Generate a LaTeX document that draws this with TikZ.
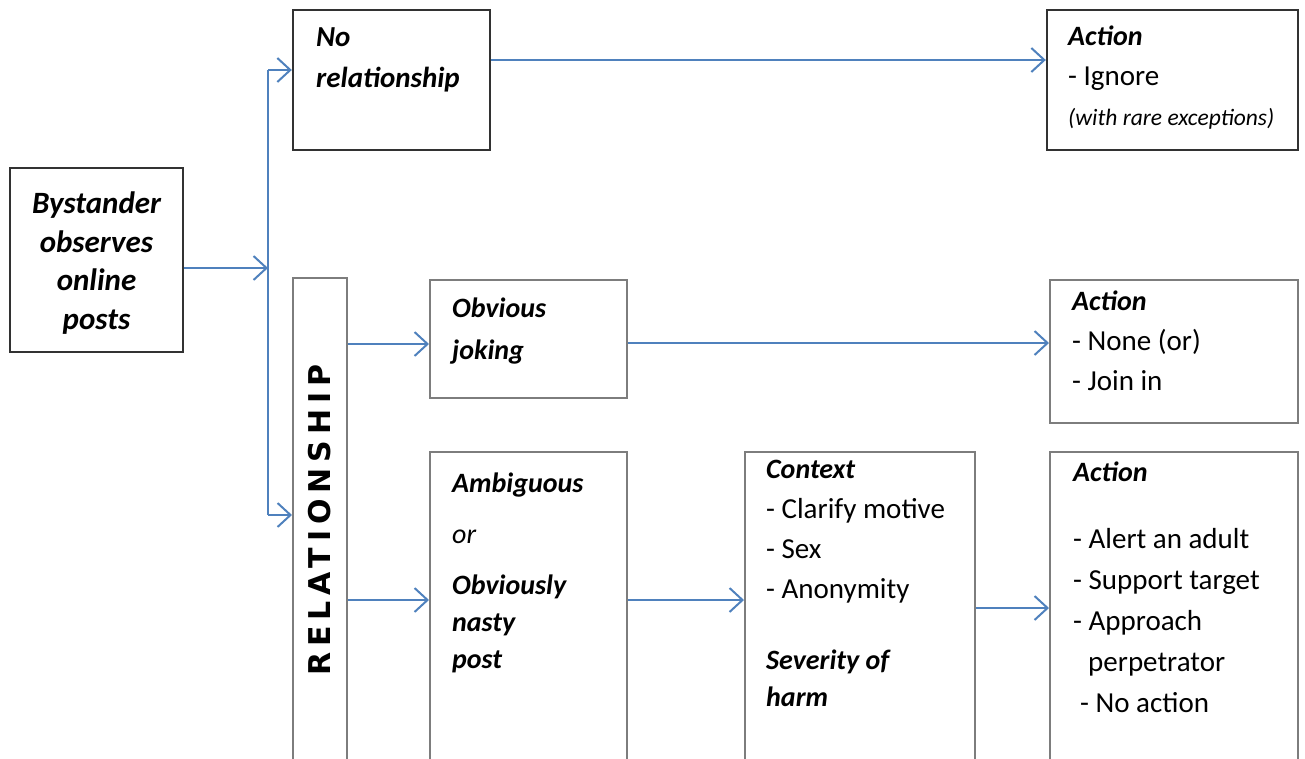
\documentclass[tikz,border=0pt]{standalone}
\usepackage{fontspec}
\setmainfont{Carlito}
\newfontfamily\relfont{DejaVu Sans}[LetterSpace=20]
\usepackage{tikz}
\usetikzlibrary{arrows.meta,positioning,calc}
\definecolor{flowblue}{RGB}{79,129,189}
\definecolor{boxdark}{RGB}{50,50,50}
\definecolor{boxgrey}{RGB}{125,125,125}
\tikzset{
    darkbox/.style={rectangle, draw=boxdark, line width=2.4pt, fill=white, inner sep=0pt},
    greybox/.style={rectangle, draw=boxgrey, line width=2pt, fill=white, inner sep=0pt},
    boxtext/.style={anchor=north west, inner sep=0pt, align=left, font=\fontsize{29}{40}\selectfont},
    flow/.style={draw=flowblue, line width=2pt, -{Straight Barb[length=13pt,width=24pt,line width=2pt]}},
    wire/.style={draw=flowblue, line width=2pt}
}
\newcommand{\hd}[1]{{\fontsize{28}{40}\selectfont\bfseries\itshape #1}}

\begin{document}
\begin{tikzpicture}[x=1pt,y=-1pt]
    \useasboundingbox (0,0) rectangle (1305,758);
    \clip (0,0) rectangle (1305,758);

    % Boxes
    \node[darkbox, minimum width=173, minimum height=184] (bys) at (96.5,260) {};
    \node[darkbox, minimum width=197, minimum height=140] (norel) at (391.5,80) {};
    \node[darkbox, minimum width=251, minimum height=140] (act1) at (1172.5,80) {};
    \node[greybox, minimum width=54, minimum height=522] (rel) at (320,539) {};
    \node[greybox, minimum width=197, minimum height=118] (joke) at (528.5,339) {};
    \node[greybox, minimum width=248, minimum height=143] (act2) at (1174,351.5) {};
    \node[greybox, minimum width=197, minimum height=348] (amb) at (528.5,626) {};
    \node[greybox, minimum width=230, minimum height=348] (ctx) at (860,626) {};
    \node[greybox, minimum width=248, minimum height=348] (act3) at (1174,626) {};

    % Texts
    \node[inner sep=0pt, align=center, font=\fontsize{31}{38.5}\selectfont\bfseries\itshape] (bystxt) at ([yshift=-3]bys.center)
        {Bystander\\observes\\online\\posts};
    \node[boxtext, font=\fontsize{29}{41}\selectfont\bfseries\itshape] (noreltxt) at (316,27)
        {No\\relationship};
    \node[boxtext] (act1txt) at (1068,26) {
        \hd{Action}\\
        - Ignore\\
        {\fontsize{23.5}{26}\selectfont\itshape (with rare exceptions)}
    };
    \node[rotate=90, inner sep=0pt, font=\fontsize{30}{36}\selectfont\relfont\bfseries] (reltxt) at (rel.center |- 0,520)
        {RELATIONSHIP};
    \node[boxtext, font=\fontsize{28}{42}\selectfont\bfseries\itshape] (joketxt) at (452,298)
        {Obvious\\joking};
    \node[boxtext] (act2txt) at (1072,291) {
        \hd{Action}\\
        - None (or)\\
        - Join in
    };
    \node[boxtext, font=\fontsize{28}{37}\selectfont] (ambtxt) at (452,473) {
        \hd{Ambiguous}\\[14pt]
        \textit{or}\\[14pt]
        \hd{Obviously}\\
        \hd{nasty}\\
        \hd{post}
    };
    \node[boxtext] (ctxtxt) at (766,460) {
        \hd{Context}\\
        - Clarify motive\\
        - Sex\\
        - Anonymity\\[31pt]
        \hd{Severity of}\\[-3pt]
        \hd{harm}
    };
    \node[boxtext, font=\fontsize{29}{41}\selectfont] (act3txt) at (1073,462) {
        \hd{Action}\\[26pt]
        - Alert an adult\\
        - Support target\\
        - Approach\\
        \hspace*{15pt}perpetrator\\
        \hspace*{7pt}- No action
    };

    % Connectors
    \coordinate (trunktop) at (268,70);
    \coordinate (trunkmid) at (268,268);
    \coordinate (trunkbot) at (268,515);
    \coordinate (lowline) at (0,600);
    \coordinate (ctxline) at (0,608);
    \draw[flow] (bys.east |- trunkmid) -- (trunkmid);
    \draw[wire] (trunktop) -- (trunkbot);
    \draw[flow] (trunktop) -- (trunktop -| norel.west);
    \draw[flow] (trunkbot) -- (trunkbot -| rel.west);
    \draw[flow] ([yshift=20]norel.east) -- ([yshift=20]act1.west);
    \draw[flow] ([yshift=-5]rel.east |- joke.west) -- ([yshift=-5]joke.west);
    \draw[flow] ([yshift=-4]joke.east) -- ([yshift=-4]joke.east -| act2.west);
    \draw[flow] (rel.east |- lowline) -- (amb.west |- lowline);
    \draw[flow] (amb.east |- lowline) -- (ctx.west |- lowline);
    \draw[flow] (ctx.east |- ctxline) -- (act3.west |- ctxline);
\end{tikzpicture}
\end{document}
